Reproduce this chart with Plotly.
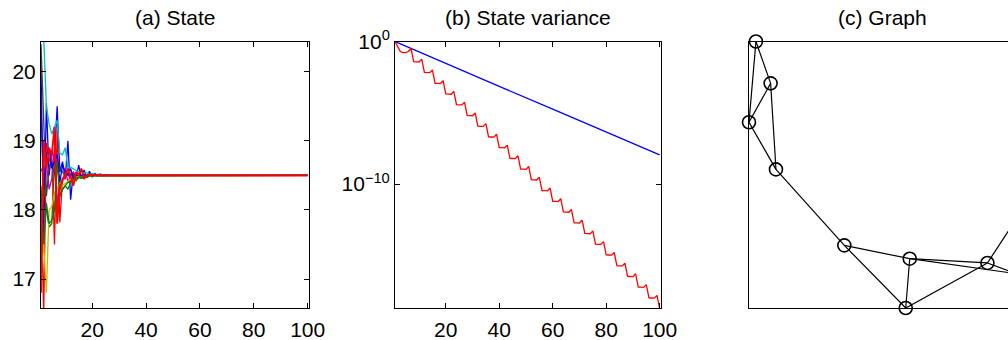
import plotly.graph_objects as go

# ---------------- data ----------------
# (a) State: node states per iteration; all converge to consensus
consensus = 18.5
state_colors = ["rgb(0,0,255)", "rgb(0,128,0)", "rgb(255,0,0)", "rgb(0,191,191)",
                "rgb(191,0,191)", "rgb(191,191,0)", "rgb(64,64,64)",
                "rgb(0,0,255)", "rgb(0,128,0)", "rgb(255,0,0)"]
s1 = [20.1, 17.6, 19.55, 18.5, 18.85, 18.75, 19.5, 18.55, 18.7, 18.45, 19.0, 18.15, 18.55, 18.45,
      18.65, 18.45, 18.58, 18.47, 18.56, 18.48, 18.53, 18.49, 18.52, 18.5, 18.51, 18.5]
s2 = [17.3, 18.4, 18.0, 17.75, 17.8, 18.7, 18.0, 18.2, 18.3, 18.35, 18.3, 18.4, 18.45, 18.42,
      18.47, 18.46, 18.48, 18.47, 18.49, 18.49, 18.5, 18.5, 18.5]
s3 = [18.35, 16.5, 18.97, 18.7, 18.86, 17.5, 19.15, 17.82, 18.45, 18.45, 18.55, 18.4, 18.5,
      18.45, 18.52, 18.48, 18.51, 18.49, 18.5, 18.5]
s4 = [20.6, 20.5, 19.5, 19.25, 19.1, 19.2, 19.3, 18.82, 18.8, 18.9, 18.6, 18.62, 18.6, 18.58,
      18.55, 18.56, 18.53, 18.54, 18.52, 18.53, 18.51, 18.52, 18.51, 18.51, 18.5, 18.5, 18.5]
s5 = [18.6, 18.5, 18.7, 18.3, 18.45, 18.9, 18.1, 18.35, 18.4, 18.6, 18.4, 18.5, 18.55, 18.47,
      18.51, 18.49, 18.5, 18.5]
s6 = [17.1, 17.5, 16.8, 18.0, 18.05, 18.25, 18.3, 18.4, 18.35, 18.38, 18.42, 18.45, 18.45,
      18.48, 18.48, 18.49, 18.49, 18.5, 18.5]
s7 = [20.4, 19.3, 18.2, 18.6, 18.7, 18.5, 18.7, 18.6, 18.55, 18.5, 18.52, 18.5, 18.51, 18.5,
      18.5]
s8 = [19.5, 18.3, 18.8, 18.9, 18.6, 18.7, 18.8, 18.4, 18.65, 18.55, 18.5, 18.6, 18.45, 18.5,
      18.52, 18.5, 18.51, 18.5, 18.5]
s9 = [18.3, 17.5, 18.1, 17.8, 17.85, 18.0, 18.7, 18.2, 18.3, 18.35, 18.4, 18.4, 18.45, 18.45,
      18.48, 18.48, 18.49, 18.49, 18.5, 18.5, 18.5]
s10 = [16.8, 19.0, 18.6, 18.9, 18.8, 19.2, 17.8, 18.3, 18.45, 18.5, 18.6, 18.5, 18.35, 18.55,
       18.5, 18.6, 18.45, 18.5, 18.52, 18.5, 18.51, 18.5, 18.5]
state_series = [s1, s2, s3, s4, s5, s6, s7, s8, s9, s10]
last_iter = 100

# (b) State variance (log10 exponents)
var_blue_x = [1, 20, 40, 60, 80, 100]
var_blue_exp = [0.0, -1.55, -3.15, -4.75, -6.35, -7.96]
var_red_exp = [0.00, -0.40, -0.70, -0.78, -0.78, -0.70, -0.49, -1.42, -1.43, -1.44,
               -1.24, -2.17, -2.18, -2.19, -2.00, -2.93, -2.94, -2.95, -2.75, -3.68,
               -3.69, -3.70, -3.50, -4.43, -4.44, -4.45, -4.26, -5.19, -5.20, -5.21,
               -5.01, -5.94, -5.95, -5.96, -5.76, -6.69, -6.70, -6.71, -6.51, -7.44,
               -7.45, -7.46, -7.27, -8.20, -8.21, -8.22, -8.02, -8.95, -8.96, -8.97,
               -8.77, -9.70, -9.71, -9.72, -9.53, -10.46, -10.47, -10.48, -10.28, -11.21,
               -11.22, -11.23, -11.03, -11.96, -11.97, -11.98, -11.79, -12.72, -12.73, -12.74,
               -12.54, -13.47, -13.48, -13.49, -13.29, -14.22, -14.23, -14.24, -14.04, -14.97,
               -14.98, -14.99, -14.80, -15.73, -15.74, -15.75, -15.55, -16.48, -16.49, -16.50,
               -16.30, -17.23, -17.24, -17.25, -17.06, -17.99, -18.00, -18.01, -17.81, -18.74]

# (c) Graph: node positions (normalized) and edges
node_x = [0.026, 0.081, 0.000, 0.101, 0.357, 0.602, 0.587, 0.893, 1.000, 1.000]
node_y = [1.000, 0.843, 0.697, 0.520, 0.235, 0.185, 0.000, 0.169, 0.129, 0.332]
edges = [(0, 1), (0, 2), (1, 2), (1, 3), (2, 3), (3, 4), (4, 5), (4, 6), (5, 6),
         (6, 7), (5, 7), (5, 8), (7, 8), (7, 9)]

x_ticks = [20, 40, 60, 80, 100]
a_yticks = [17, 18, 19, 20]
b_ytickvals = [1, 1e-10]
b_yticktext = ["10<sup>0</sup>", "10<sup>−10</sup>"]
titles = ["(a) State", "(b) State variance", "(c) Graph"]

# ---------------- figure ----------------
W, H = 1008, 340
FONT = "Liberation Sans, Arial, Helvetica, sans-serif"
fig = go.Figure()

n_series = len(state_series)
for i, (vals, col) in enumerate(zip(state_series, state_colors)):
    xs = list(range(1, len(vals) + 1)) + [last_iter]
    ys = vals + [consensus]
    w = 1.9 if i == n_series - 1 else 1.3
    fig.add_trace(go.Scatter(x=xs, y=ys, mode="lines", line=dict(color=col, width=w),
                             xaxis="x", yaxis="y", showlegend=False, hoverinfo="skip"))

fig.add_trace(go.Scatter(x=var_blue_x, y=[10 ** v for v in var_blue_exp], mode="lines",
                         line=dict(color="rgb(0,0,255)", width=1.3),
                         xaxis="x2", yaxis="y2", showlegend=False))
fig.add_trace(go.Scatter(x=list(range(1, len(var_red_exp) + 1)), y=[10 ** v for v in var_red_exp],
                         mode="lines", line=dict(color="rgb(255,0,0)", width=1.3),
                         xaxis="x2", yaxis="y2", showlegend=False))

ex, ey = [], []
for a, b in edges:
    ex += [node_x[a], node_x[b], None]
    ey += [node_y[a], node_y[b], None]
fig.add_trace(go.Scatter(x=ex, y=ey, mode="lines", line=dict(color="black", width=1.2),
                         xaxis="x3", yaxis="y3", showlegend=False))
fig.add_trace(go.Scatter(x=node_x, y=node_y, mode="markers", cliponaxis=False,
                         marker=dict(symbol="circle-open", size=13, color="black",
                                     line=dict(width=1.6, color="black")),
                         xaxis="x3", yaxis="y3", showlegend=False))

ydom = [1 - 308 / H, 1 - 41.5 / H]
axis_common = dict(showline=True, linecolor="black", linewidth=1, mirror="ticks",
                   ticks="inside", ticklen=5, tickcolor="black", showgrid=False,
                   zeroline=False, automargin=False,
                   tickfont=dict(family=FONT, size=21, color="black"))

fig.update_layout(
    width=W, height=H, margin=dict(l=0, r=0, t=0, b=0, autoexpand=False),
    paper_bgcolor="white", plot_bgcolor="white",
    font=dict(family=FONT, color="black"),
    xaxis=dict(domain=[41 / W, 309 / W], range=[1, 100.5], tickvals=x_ticks, anchor="y",
               ticklabelstandoff=3, **axis_common),
    yaxis=dict(domain=ydom, range=[16.58, 20.44], tickvals=a_yticks, anchor="x", **axis_common),
    xaxis2=dict(domain=[395 / W, 661 / W], range=[1, 100.5], tickvals=x_ticks, anchor="y2",
                ticklabelstandoff=3, **axis_common),
    yaxis2=dict(domain=ydom, type="log", range=[-18.7, 0], tickvals=b_ytickvals,
                ticktext=b_yticktext, anchor="x2", **axis_common),
    xaxis3=dict(domain=[749 / W, 1.0], range=[0, 259 / 267], anchor="y3", showline=True,
                linecolor="black", linewidth=1, mirror=True, ticks="", showticklabels=False,
                showgrid=False, zeroline=False, automargin=False),
    yaxis3=dict(domain=ydom, range=[0, 1], anchor="x3", showline=True, linecolor="black",
                linewidth=1, mirror=False, ticks="", showticklabels=False, showgrid=False,
                zeroline=False, automargin=False),
)

title_x = [175 / W, 528 / W, 882.5 / W]
for t, xp in zip(titles, title_x):
    fig.add_annotation(text=t, x=xp, y=1 - 17 / H, xref="paper", yref="paper",
                       showarrow=False, xanchor="center", yanchor="middle",
                       font=dict(family=FONT, size=21, color="black"))

fig.write_html("out.html")
